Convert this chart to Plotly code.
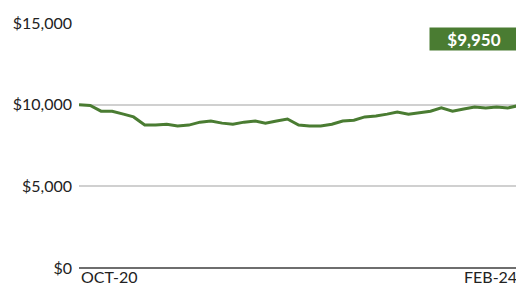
import plotly.graph_objects as go
import pandas as pd

months = pd.date_range("2020-10-01", "2024-02-01", freq="MS").strftime("%Y-%m-%d").tolist()
values = [10000, 9950, 9600, 9600, 9420, 9250, 8750, 8750, 8800, 8700,
          8750, 8930, 9000, 8870, 8800, 8930, 9000, 8870, 9000, 9120,
          8750, 8700, 8700, 8800, 9000, 9050, 9250, 9300, 9420, 9550,
          9420, 9500, 9600, 9800, 9600, 9730, 9850, 9800, 9850, 9800, 9950]
y_ticks = [0, 5000, 10000, 15000]
y_labels = ["$0", "$5,000", "$10,000", "$15,000"]
x_labels = ["OCT-20", "FEB-24"]
end_label = "$9,950"

green = "#4a7c32"

fig = go.Figure()
fig.add_trace(go.Scatter(x=months, y=values, mode="lines",
                         line=dict(color=green, width=3), hoverinfo="skip"))

fig.update_layout(
    width=516, height=280,
    margin=dict(l=71, r=5, t=15, b=20),
    paper_bgcolor="white", plot_bgcolor="white",
    showlegend=False,
    font=dict(family="Lato, sans-serif", color="#222", size=16),
    xaxis=dict(range=[months[0], months[-1]], showgrid=False, showticklabels=False,
               zeroline=False, showline=False, ticks=""),
    yaxis=dict(range=[0, 15000], tickvals=y_ticks, ticktext=y_labels,
               showgrid=True, gridcolor="#d0d0d0", gridwidth=1.5,
               zeroline=True, zerolinecolor="#6e6e6e", zerolinewidth=2,
               ticks="", ticklabelstandoff=6, tickfont=dict(size=16, color="#222")),
)

fig.add_annotation(x=months[0], y=0, yref="y", xref="x", text=x_labels[0],
                   showarrow=False, xanchor="left", yanchor="top", yshift=3,
                   font=dict(size=16, color="#222"))
fig.add_annotation(x=months[-1], y=0, yref="y", xref="x", text=x_labels[1],
                   showarrow=False, xanchor="right", yanchor="top", yshift=3,
                   font=dict(size=16, color="#222"))
fig.add_annotation(x=months[-1], y=14000, xref="x", yref="y", text="<b>%s</b>" % end_label,
                   showarrow=False, xanchor="right", yanchor="middle",
                   bgcolor=green, width=84, height=18, borderpad=2, align="center",
                   font=dict(size=17, color="white"))

fig.write_html("out.html")
